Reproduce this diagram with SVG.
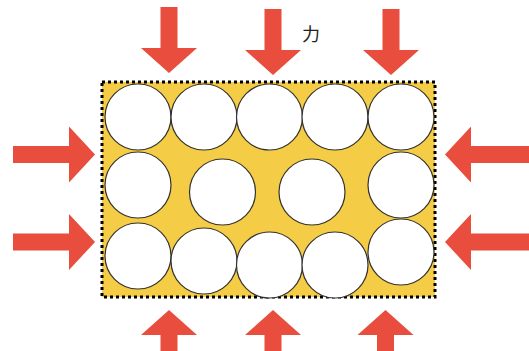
<svg xmlns="http://www.w3.org/2000/svg" width="529" height="351" viewBox="0 0 529 351">
  <style>
    .ball { fill: #ffffff; stroke: #333333; stroke-width: 1.2; }
    .force { fill: #E84D3D; }
    .label { font-family: "Noto Sans CJK JP", "Noto Sans CJK SC", sans-serif; font-size: 18px; fill: #222222; }
  </style>
  <defs>
    <!-- downward arrow, tip at origin -->
    <path id="arrow-down" d="M-8.5,-66 H8.5 V-25 H28 L0,0 L-28,-25 H-8.5 Z"/>
    <!-- rightward arrow, tip at origin -->
    <path id="arrow-right" d="M-82,-8.5 V8.5 H-26 V28 L0,0 L-26,-28 V-8.5 Z"/>
    <!-- leftward arrow running off the right edge, tip at origin -->
    <path id="arrow-left" d="M90,-8.5 V8.5 H26 V28 L0,0 L26,-28 V-8.5 Z"/>
  </defs>

  <!-- container -->
  <g id="container">
    <rect x="102" y="82" width="333" height="215" fill="#F5CC45" stroke="#000000" stroke-width="3" stroke-dasharray="3 3"/>
  </g>

  <!-- particles -->
  <g id="particles">
    <circle class="ball" cx="138" cy="117" r="33"/>
    <circle class="ball" cx="204" cy="117" r="33"/>
    <circle class="ball" cx="269.5" cy="117" r="33"/>
    <circle class="ball" cx="335" cy="117" r="33"/>
    <circle class="ball" cx="401" cy="117" r="33"/>

    <circle class="ball" cx="138" cy="185" r="33"/>
    <circle class="ball" cx="222.5" cy="192" r="33"/>
    <circle class="ball" cx="312" cy="192" r="33"/>
    <circle class="ball" cx="401" cy="185" r="33"/>

    <circle class="ball" cx="138" cy="256" r="33"/>
    <circle class="ball" cx="204" cy="261" r="33"/>
    <circle class="ball" cx="269.5" cy="265" r="33"/>
    <circle class="ball" cx="335" cy="265" r="33"/>
    <circle class="ball" cx="401" cy="252" r="33"/>
  </g>

  <!-- forces -->
  <g id="forces" class="force">
    <use href="#arrow-down" transform="translate(169,73)"/>
    <use href="#arrow-down" transform="translate(273,75)"/>
    <use href="#arrow-down" transform="translate(391,75)"/>

    <use href="#arrow-down" transform="translate(169,310) rotate(180)"/>
    <use href="#arrow-down" transform="translate(273,310) rotate(180)"/>
    <use href="#arrow-down" transform="translate(385.5,310) rotate(180)"/>

    <use href="#arrow-right" transform="translate(95,154.5)"/>
    <use href="#arrow-right" transform="translate(95,242)"/>

    <use href="#arrow-left" transform="translate(445,154.5)"/>
    <use href="#arrow-left" transform="translate(445,242)"/>
  </g>

  <g id="force-label">
    <text class="label" x="302" y="41">力</text>
  </g>
</svg>
